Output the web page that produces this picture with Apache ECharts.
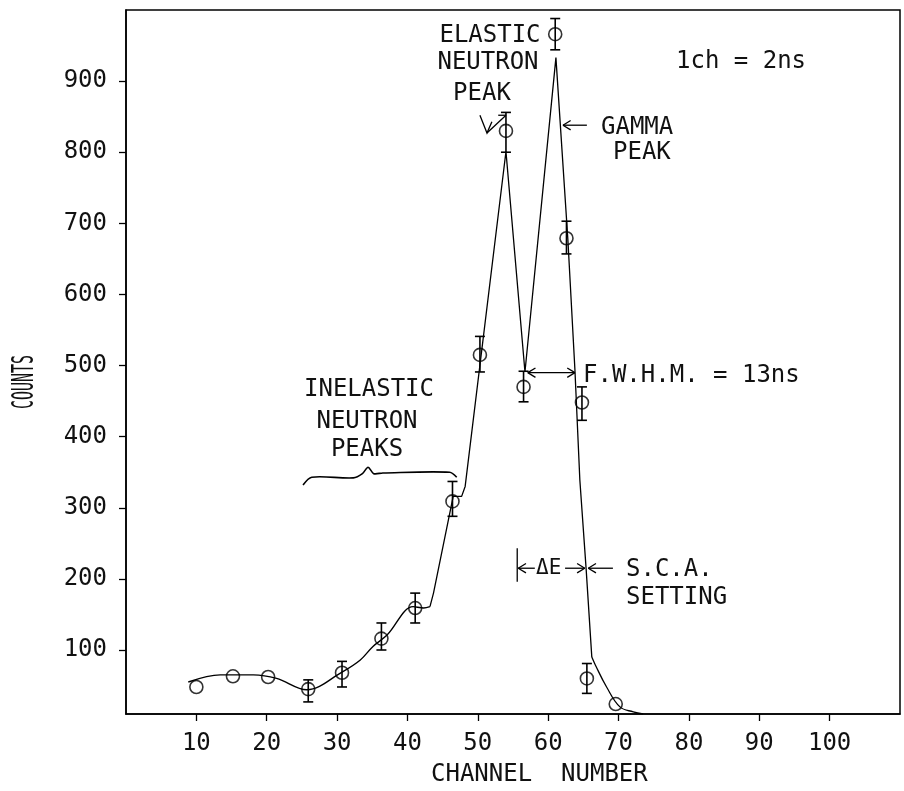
<!DOCTYPE html>
<html><head><meta charset="utf-8">
<script src="https://cdn.jsdelivr.net/npm/echarts@6/dist/echarts.min.js"></script>
<style>html,body{margin:0;padding:0;background:#fff}#c{width:904px;height:791px}</style>
</head><body><div id="c"></div>
<script>
// ---- data ----
const xTickValues = [10, 20, 30, 40, 50, 60, 70, 80, 90, 100];
const yTickValues = [100, 200, 300, 400, 500, 600, 700, 800, 900];

// measured points (channel, counts) with error bar limits
const channels = [10, 15.2, 20.2, 25.9, 30.7, 36.3, 41.1, 46.4, 50.3, 54.0, 56.5, 61.0, 62.6, 64.8, 65.5, 69.6];
const counts   = [48, 63, 62, 45, 68, 116, 159, 309, 515, 830, 470, 966, 679, 448, 60, 24];
const errLow   = [48, 63, 62, 27, 48, 100, 138, 288, 491, 800, 449, 944, 657, 423, 39, 24];
const errHigh  = [48, 63, 62, 58, 84, 138, 180, 337, 541, 856, 492, 988, 703, 470, 81, 24];

// hand-drawn curve through the data
const lowCurveX  = [8.85, 13.4, 18.1, 21.4, 25.7, 30.7, 33.3, 35.1, 37.1, 40.8, 42.3, 43.2];
const lowCurveY  = [55, 65, 65, 60, 44, 69, 86, 105, 121, 161, 159, 161];
const peakCurveX = [43.2, 43.7, 46.5, 47.7, 48.2, 54.0, 56.7, 61.1, 62.8, 63.8, 64.5, 65.4, 66.2];
const peakCurveY = [161, 180, 316, 316, 330, 801, 491, 933, 677, 494, 339, 213, 90];
const tailCurveX = [66.2, 66.7, 68.3, 70.2, 72.1, 73.5];
const tailCurveY = [90, 79, 48, 20, 13, 10];

// annotation geometry in data units
const braceX = [25.16, 26.4, 32.3, 33.6, 34.4, 35.2, 36.5, 46.0, 47.0];
const braceY = [332, 343, 342, 348, 357, 348, 349, 350, 343];

const FONT = '"DejaVu Sans Mono", "Liberation Mono", monospace';
const INK = '#111';

const chart = echarts.init(document.getElementById('c'), null, {renderer: 'canvas'});

const zip = (a, b) => a.map((v, i) => [v, b[i]]);

chart.setOption({
  animation: false,
  backgroundColor: '#fff',
  grid: {left: 126, right: 4, top: 10, bottom: 77, show: true, borderColor: '#000', borderWidth: 1.5, backgroundColor: 'transparent'},
  xAxis: {
    type: 'value', min: 0, max: 110,
    splitLine: {show: false},
    axisLine: {show: true, lineStyle: {color: '#000', width: 1.5}},
    axisTick: {show: true, length: 7, customValues: xTickValues, lineStyle: {color: '#000', width: 1.3}},
    axisLabel: {customValues: xTickValues, fontFamily: FONT, fontSize: 24, color: INK, margin: 18}
  },
  yAxis: {
    type: 'value', min: 10, max: 1000,
    splitLine: {show: false},
    axisLine: {show: true, lineStyle: {color: '#000', width: 1.5}},
    axisTick: {show: true, length: 7, customValues: yTickValues, lineStyle: {color: '#000', width: 1.3}},
    axisLabel: {customValues: yTickValues, fontFamily: FONT, fontSize: 24, color: INK, margin: 19, lineHeight: 34, verticalAlign: 'middle', padding: [10, 0, 0, 0]}
  },
  series: [
    {type: 'line', data: zip(lowCurveX, lowCurveY), smooth: 0.35, symbol: 'none', lineStyle: {color: '#000', width: 1.4}, z: 2},
    {type: 'line', data: zip(peakCurveX, peakCurveY), smooth: false, symbol: 'none', lineStyle: {color: '#000', width: 1.3}, z: 2},
    {type: 'line', data: zip(tailCurveX, tailCurveY), smooth: 0.4, symbol: 'none', lineStyle: {color: '#000', width: 1.3}, z: 2},
    {
      type: 'custom',
      data: channels.map((c, i) => [c, errLow[i], errHigh[i]]),
      renderItem: function (params, api) {
        const x = api.value(0), lo = api.value(1), hi = api.value(2);
        if (hi - lo < 1) return {type: 'group', children: []};
        const a = api.coord([x, lo]), b = api.coord([x, hi]);
        const w = 5;
        const st = {stroke: '#000', lineWidth: 1.6};
        return {type: 'group', children: [
          {type: 'line', shape: {x1: a[0], y1: a[1], x2: b[0], y2: b[1]}, style: st},
          {type: 'line', shape: {x1: a[0] - w, y1: a[1], x2: a[0] + w, y2: a[1]}, style: st},
          {type: 'line', shape: {x1: b[0] - w, y1: b[1], x2: b[0] + w, y2: b[1]}, style: st}
        ]};
      },
      z: 3
    },
    {type: 'scatter', data: zip(channels, counts), symbol: 'circle', symbolSize: 13,
      itemStyle: {color: 'rgba(255,255,255,0)', borderColor: '#000', borderWidth: 1.6}, z: 4}
  ]
});

// ---- annotations ----
const P = (x, y) => chart.convertToPixel({gridIndex: 0}, [x, y]);
const g = [];
const lineStyle = {stroke: '#000', lineWidth: 1.3};
function seg(p, q) { g.push({type: 'line', shape: {x1: p[0], y1: p[1], x2: q[0], y2: q[1]}, style: lineStyle}); }
function head(tip, from) {
  const dx = tip[0] - from[0], dy = tip[1] - from[1];
  const L = Math.hypot(dx, dy) || 1, ux = dx / L, uy = dy / L, len = 9, ang = 0.55;
  for (const s of [-1, 1]) {
    const c = Math.cos(s * ang), sn = Math.sin(s * ang);
    const rx = -(ux * c - uy * sn), ry = -(ux * sn + uy * c);
    seg(tip, [tip[0] + rx * len, tip[1] + ry * len]);
  }
}
function arrow(a, b, both) { seg(a, b); head(b, a); if (both) head(a, b); }

// FWHM double arrow
arrow(P(57.1, 490), P(63.8, 490), true);
// gamma arrow
arrow(P(65.5, 838), P(62.1, 838), false);
// delta E markers
seg(P(55.6, 243), P(55.6, 196));
arrow(P(58.1, 215), P(55.75, 215), false);
arrow(P(62.4, 215), P(65.2, 215), false);
arrow(P(69.2, 215), P(65.7, 215), false);
// elastic peak check-mark arrow
g.push({type: 'polyline', shape: {points: [P(50.3, 852), P(51.3, 827), P(52.0, 843)]}, style: Object.assign({fill: null}, lineStyle)});
seg(P(51.3, 827), P(54.0, 852));
seg(P(52.9, 852), P(54.0, 852));
// brace
g.push({type: 'polyline', shape: {points: braceX.map((x, i) => P(x, braceY[i])), smooth: 0.3}, style: {stroke: '#000', lineWidth: 1.6, fill: null}});

function txt(text, x, y, align, size) {
  g.push({type: 'text', x: x, y: y, style: {text: text, fontFamily: FONT, fontSize: size || 24, fill: INK, align: align || 'left', verticalAlign: 'middle'}});
}
txt('ELASTIC', 490, 36, 'center');
txt('NEUTRON', 488, 63, 'center');
txt('PEAK', 482, 94, 'center');
txt('1ch = 2ns', 676, 62);
txt('GAMMA', 601, 128);
txt('PEAK', 613, 153);
txt('F.W.H.M. = 13ns', 583, 376);
txt('\u0394E', 536, 569, 'left', 21);
txt('S.C.A.', 626, 570);
txt('SETTING', 626, 598);
txt('INELASTIC', 369, 390, 'center');
txt('NEUTRON', 367, 422, 'center');
txt('PEAKS', 367, 450, 'center');
txt('CHANNEL  NUMBER', 431, 775);
g.push({type: 'text', x: 25, y: 382, rotation: Math.PI / 2, scaleX: 0.5,
  style: {text: 'COUNTS', fontFamily: FONT, fontSize: 30, fill: INK, align: 'center', verticalAlign: 'middle'}});

chart.setOption({graphic: g});
</script>
</body></html>
